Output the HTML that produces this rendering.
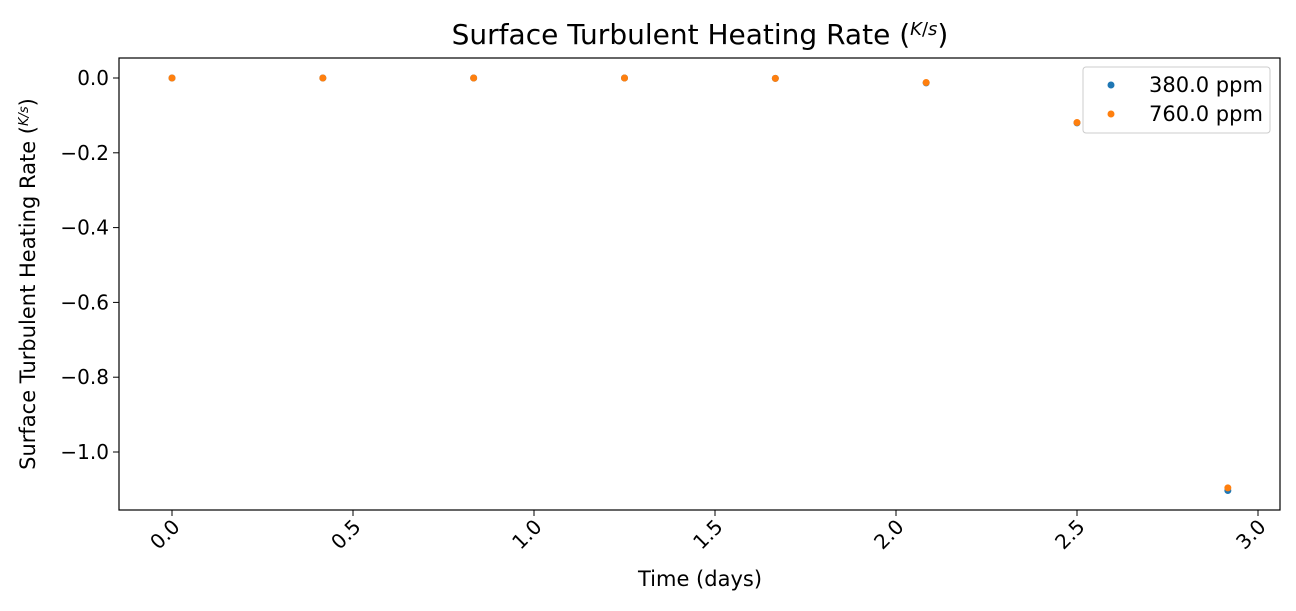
<!DOCTYPE html>
<html><head><meta charset="utf-8"><style>
body{margin:0;background:#fff;}
svg{font-family:"DejaVu Sans","Liberation Sans",sans-serif;}
</style></head><body>
<svg id="chart" width="1296" height="606">
<rect width="1296" height="606" fill="#fff"/>
<text x="700" y="44" font-size="28" text-anchor="middle" fill="#000">Surface Turbulent Heating Rate (<tspan font-style="italic" font-size="18" dy="-9">K</tspan><tspan font-size="18">/</tspan><tspan font-style="italic" font-size="18">s</tspan><tspan dy="9">)</tspan></text>
<g id="yticks"></g><g id="xticks"></g><g id="marks"></g>
<rect x="119" y="58" width="1161" height="452" fill="none" stroke="#000" stroke-width="1.2"/>
<text x="700" y="586" font-size="21" text-anchor="middle">Time (days)</text>
<text transform="translate(35,284) rotate(-90)" font-size="21" text-anchor="middle">Surface Turbulent Heating Rate (<tspan font-style="italic" font-size="13" dy="-7">K/s</tspan><tspan dy="7">)</tspan></text>
<g>
<rect x="1083" y="67" width="187" height="66" rx="3" fill="#fff" stroke="#ccc" stroke-width="1"/>
<circle cx="1111" cy="85" r="3.5" fill="#1f77b4"/>
<text x="1149" y="92" font-size="21">380.0 ppm</text>
<circle cx="1111" cy="114" r="3.5" fill="#ff7f0e"/>
<text x="1149" y="121" font-size="21">760.0 ppm</text>
</g>
</svg>
<script>
const times=[0,0.4167,0.8333,1.25,1.6667,2.0833,2.5,2.9167];
const series380=[0,0,0,0,-0.001,-0.013,-0.12,-1.103];
const series760=[0,0,0,0,-0.001,-0.012,-0.119,-1.096];
const xTicks=[0,0.5,1,1.5,2,2.5,3];
const xLabels=["0.0","0.5","1.0","1.5","2.0","2.5","3.0"];
const yTicks=[0,-0.2,-0.4,-0.6,-0.8,-1.0];
const yLabels=["0.0","\u22120.2","\u22120.4","\u22120.6","\u22120.8","\u22121.0"];
const NS="http://www.w3.org/2000/svg";
const xs=v=>172+v*362;
const ys=v=>78-v*374;
function mk(t,a,p){const e=document.createElementNS(NS,t);for(const k in a)e.setAttribute(k,a[k]);p.appendChild(e);return e;}
const yg=document.getElementById('yticks'),xg=document.getElementById('xticks'),mg=document.getElementById('marks');
yTicks.forEach((v,i)=>{
 const l=mk('line',{x1:113,x2:119,y1:ys(v),y2:ys(v),stroke:'#000'},yg);
 
 
 const t=mk('text',{x:109,y:ys(v)+7,'font-size':20,'text-anchor':'end'},yg);t.textContent=yLabels[i];
 
 
});
xTicks.forEach((v,i)=>{
 const l=mk('line',{x1:xs(v),x2:xs(v),y1:510,y2:516,stroke:'#000'},xg);
 
 
 const t=mk('text',{transform:`translate(${xs(v)+9},${528}) rotate(-45)`,'font-size':20,'text-anchor':'end'},xg);t.textContent=xLabels[i];
 
 
});
[[series380,'#1f77b4','point-380'],[series760,'#ff7f0e','point-760']].forEach(([s,c,n])=>{
 s.forEach((v,i)=>{
  const p=mk('circle',{cx:xs(times[i]),cy:ys(v),r:3.5,fill:c},mg);
  
  
 });
});
</script>
</body></html>
